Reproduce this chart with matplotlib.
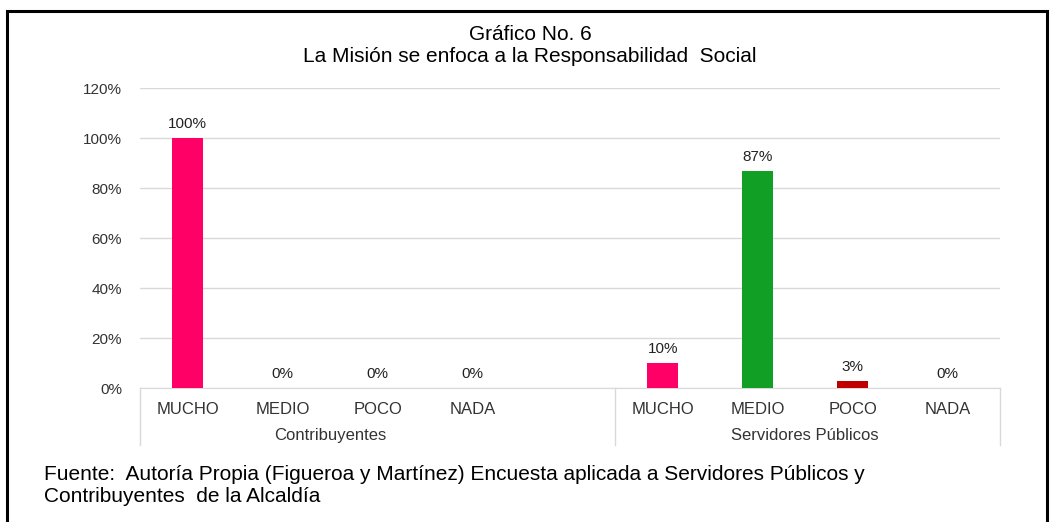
import matplotlib
matplotlib.use("Agg")
import matplotlib.pyplot as plt
from matplotlib.patches import Rectangle
from matplotlib.lines import Line2D
import matplotlib.transforms as mtransforms

plt.rcParams['font.family'] = ['Liberation Sans', 'DejaVu Sans']

groups = ["Contribuyentes", "Servidores Públicos"]
categories = ["MUCHO", "MEDIO", "POCO", "NADA"]
contribuyentes = [100, 0, 0, 0]
servidores = [10, 87, 3, 0]
colors = ["#FF0066", "#119F26", "#C00000", "#7F7F7F"]
yticks = [0, 20, 40, 60, 80, 100, 120]

W, H = 1050, 522
fig = plt.figure(figsize=(W / 100, H / 100), dpi=100)

# outer frame
fig.patches.append(Rectangle((6.5 / W, -0.05), 1040 / W, 1.05 - 10.5 / H,
                             transform=fig.transFigure, fill=False,
                             edgecolor="black", linewidth=2.2))

ax = fig.add_axes([140 / W, (H - 388) / H, 860 / W, 300 / H])

series = [contribuyentes, servidores]
positions = []
labels = []
x = 0
for gi, vals in enumerate(series):
    for ci, v in enumerate(vals):
        ax.bar(x, v, width=0.33, color=colors[ci], zorder=3)
        ax.annotate(f"{v}%", (x, v), xytext=(0, 5), textcoords="offset points",
                    ha="center", va="bottom", fontsize=11, color="#222222")
        positions.append(x)
        labels.append(categories[ci])
        x += 1
    x += 1  # blank slot between groups

ax.set_xlim(-0.5, 8.55)
ax.set_ylim(0, 120)
ax.set_yticks(yticks)
ax.set_yticklabels([f"{t}%" for t in yticks], fontsize=11, color="#333333")
ax.set_xticks(positions)
ax.set_xticklabels(labels, fontsize=12, color="#333333")
ax.tick_params(axis="both", length=0)
ax.tick_params(axis="x", pad=10)
ax.tick_params(axis="y", pad=13)
ax.grid(axis="y", color="#D9D9D9", linewidth=1, zorder=0)
for s in ["top", "right", "left"]:
    ax.spines[s].set_visible(False)
ax.spines["bottom"].set_color("#D9D9D9")

trans = mtransforms.blended_transform_factory(ax.transData, ax.transAxes)
for xs in [-0.5, 4.5, 8.55]:
    ax.add_line(Line2D([xs, xs], [0, -0.19], transform=trans, color="#D9D9D9",
                       linewidth=1, clip_on=False))
ax.text(1.5, -0.157, groups[0], transform=trans, ha="center", va="center",
        fontsize=12, color="#333333")
ax.text(6.5, -0.157, groups[1], transform=trans, ha="center", va="center",
        fontsize=12, color="#333333")

fig.text(530 / W, 1 - 34 / H, "Gráfico No. 6", ha="center", va="center", fontsize=15)
fig.text(530 / W, 1 - 56 / H, "La Misión se enfoca a la Responsabilidad  Social",
         ha="center", va="center", fontsize=15)

fig.text(44 / W, 1 - 474 / H,
         "Fuente:  Autoría Propia (Figueroa y Martínez) Encuesta aplicada a Servidores Públicos y",
         ha="left", va="center", fontsize=15)
fig.text(44 / W, 1 - 497 / H, "Contribuyentes  de la Alcaldía",
         ha="left", va="center", fontsize=15)

fig.savefig("out.png", dpi=100)
